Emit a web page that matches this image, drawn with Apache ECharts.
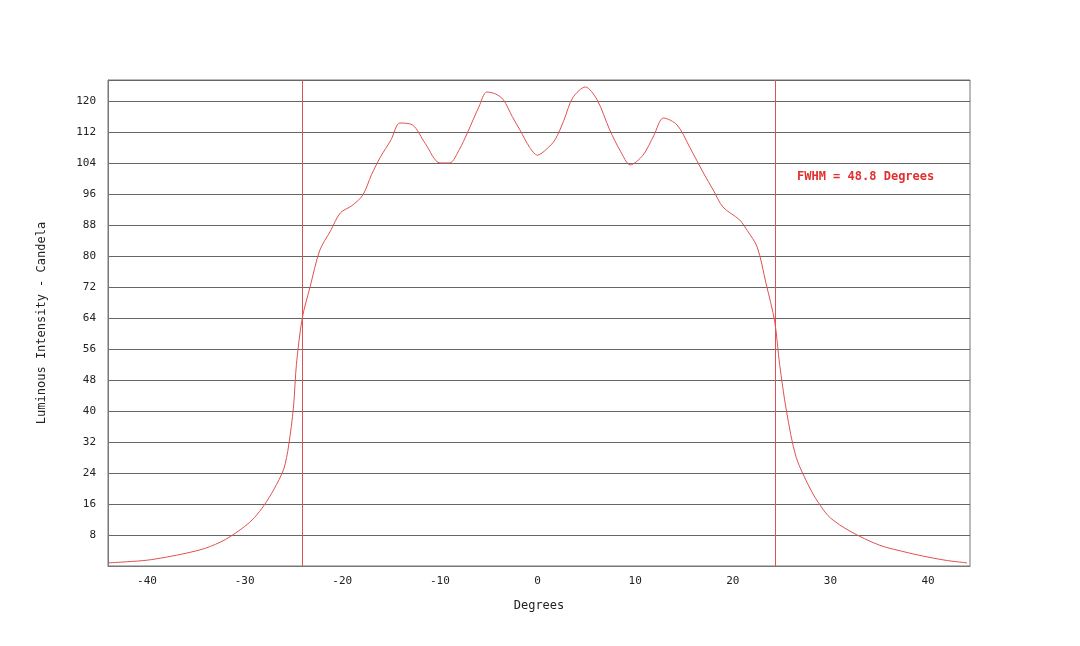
<!DOCTYPE html>
<html><head><meta charset="utf-8">
<script src="https://cdn.jsdelivr.net/npm/echarts@6/dist/echarts.min.js"></script>
<style>html,body{margin:0;padding:0;background:#fff}#c{width:1080px;height:646px}</style>
</head><body><div id="c"></div>
<script>
const degrees = [-44,-42,-40,-38,-36,-34,-32,-30,-29,-28,-27,-26,-25.5,-25,-24.7,-24.1,-23.3,-22.3,-21.2,-20.2,-19,-17.9,-17,-16.1,-15,-14.1,-12.8,-11.5,-10,-9,-8,-7.2,-6,-5.2,-4.3,-3.5,-2.6,-1.8,-0.8,0,0.9,1.8,2.7,3.6,4.9,6.1,7.4,8.5,9.5,10.8,11.9,12.9,14.3,15.6,17,18,19,20.7,21.5,22.5,23.4,24.3,24.8,25.5,26.5,28,29,30,32,35,38,40,42,44];
const candela = [0.8,1.1,1.5,2.3,3.3,4.6,6.8,10.2,12.5,15.7,19.8,25,31,41,52,64,72,81.5,86.5,91.1,93,95.7,101,105.5,110,114.3,113.8,109,104,104,107.5,111.7,118.5,122.3,121.8,120.3,116,112.5,108,106,107.5,110,115,120.8,123.6,120.3,112.5,107,103.5,106,111,115.6,113.8,108,101.4,97,92.6,89.3,86.5,82.3,73,63,52,40,28,19.6,15.5,12.4,9,5.4,3.4,2.3,1.4,0.8];
const xTicks = [-40,-30,-20,-10,0,10,20,30,40];
const fwhmLines = [-24.1, 24.3];
const annotation = 'FWHM = 48.8 Degrees';
const mono = 'DejaVu Sans Mono';
const red = '#e05050';
const chart = echarts.init(document.getElementById('c'));
chart.setOption({
  animation:false,
  grid:{left:108,right:110,top:80,bottom:80,show:true,borderColor:'#777',borderWidth:1},
  graphic:[{type:'text',left:797,top:171,style:{text:annotation,fill:'#e03030',font:'bold 12px '+mono}}],
  xAxis:{type:'value',min:-44,max:44.3,name:'Degrees',nameLocation:'middle',nameGap:34,
    nameTextStyle:{fontFamily:mono,fontSize:12,color:'#222'},
    axisLine:{onZero:false,lineStyle:{color:'#777'}},axisTick:{show:false},splitLine:{show:false},
    axisLabel:{customValues:xTicks,fontFamily:mono,fontSize:11,color:'#222',margin:10}},
  yAxis:{type:'value',min:0,max:125.4,interval:8,name:'Luminous Intensity - Candela',nameLocation:'middle',nameGap:60,
    nameTextStyle:{fontFamily:mono,fontSize:12,color:'#222'},
    axisLine:{show:true,onZero:false,lineStyle:{color:'#777'}},axisTick:{show:false},
    splitLine:{lineStyle:{color:'#666',width:1.2}},
    axisLabel:{showMinLabel:false,showMaxLabel:false,fontFamily:mono,fontSize:11,color:'#222',margin:12}},
  series:[{type:'line',data:degrees.map((d,i)=>[d,candela[i]]),smooth:0.3,showSymbol:false,
    lineStyle:{color:red,width:1},itemStyle:{color:red},
    markLine:{silent:true,symbol:'none',label:{show:false},lineStyle:{color:red,type:'solid',width:1},
      data:fwhmLines.map(v=>({xAxis:v,lineStyle:{color:red,type:'solid',width:1}}))}}]
});
</script></body></html>
